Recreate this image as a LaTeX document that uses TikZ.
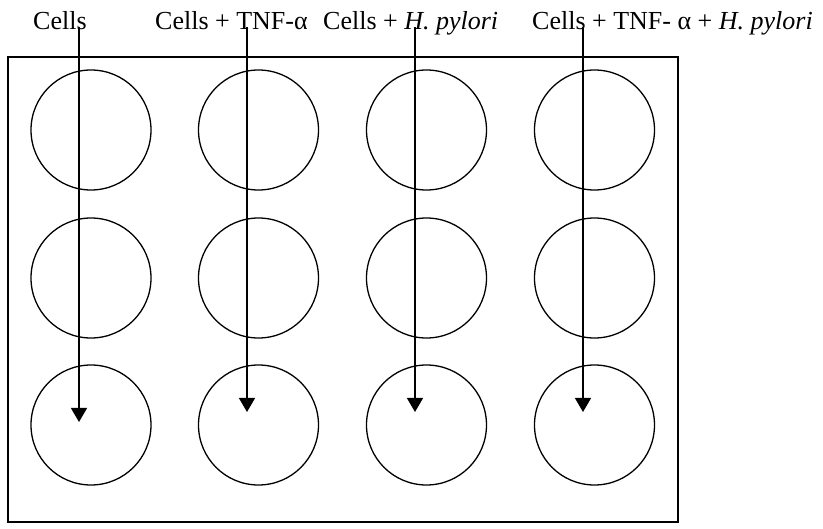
\documentclass[tikz,border=0pt]{standalone}
\usepackage{fontspec}
\setmainfont{Liberation Serif}
\usetikzlibrary{arrows.meta}
\begin{document}
\begin{tikzpicture}[x=1pt,y=-1pt,
  well/.style={draw,circle,minimum size=120pt,inner sep=0pt,line width=1.3pt},
  plate/.style={draw,line width=1.5pt},
  lbl/.style={anchor=base west,inner sep=0pt,font=\fontsize{26}{31}\selectfont},
  feed/.style={draw,line width=1.4pt,-{Triangle[width=16pt,length=14pt]}}]
\useasboundingbox (0,0) rectangle (823,529);
% plate outline
\draw[plate] (8,57) rectangle (678,522);
% 3 x 4 wells
\foreach \c/\x in {1/91,2/258.5,3/426.5,4/594.5}{
  \foreach \r/\y in {1/130,2/278,3/425}{
    \node[well] (w\r\c) at (\x,\y) {};
  }
}
% column labels
\node[lbl] (l1) at (33,30) {Cells};
\node[lbl] (l2) at (155,30) {Cells + TNF-α};
\node[lbl] (l3) at (323,30) {Cells + \textit{H. pylori}};
\node[lbl] (l4) at (532,30) {Cells + TNF- α + \textit{H. pylori}};
% feed lines
\coordinate (s1) at (79,27);  \coordinate (e1) at (79,422);
\coordinate (s2) at (247,27); \coordinate (e2) at (247,412);
\coordinate (s3) at (415,27); \coordinate (e3) at (415,412);
\coordinate (s4) at (583,27); \coordinate (e4) at (583,412);
\foreach \i in {1,...,4}{ \draw[feed] (s\i) -- (e\i); }
\end{tikzpicture}
\end{document}
